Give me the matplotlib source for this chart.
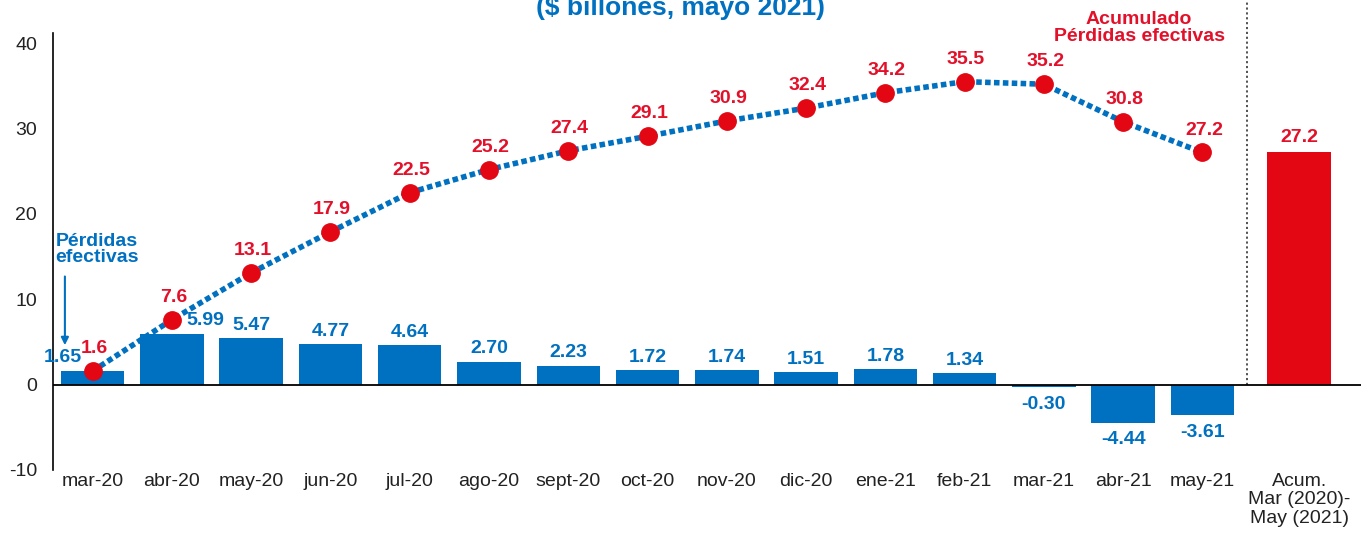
import numpy as np
import matplotlib
matplotlib.use("Agg")
import matplotlib.pyplot as plt

# Datos
meses = ["mar-20", "abr-20", "may-20", "jun-20", "jul-20", "ago-20", "sept-20", "oct-20",
         "nov-20", "dic-20", "ene-21", "feb-21", "mar-21", "abr-21", "may-21"]
perdidas = [1.65, 5.99, 5.47, 4.77, 4.64, 2.70, 2.23, 1.72, 1.74, 1.51, 1.78, 1.34, -0.30, -4.44, -3.61]
acumulado = [1.6, 7.6, 13.1, 17.9, 22.5, 25.2, 27.4, 29.1, 30.9, 32.4, 34.2, 35.5, 35.2, 30.8, 27.2]
total_label = "Acum.\nMar (2020)-\nMay (2021)"
total_valor = 27.2

AZUL = "#0070C0"
ROJO = "#E30613"
ROJO_TXT = "#E3102A"

plt.rcParams['font.family'] = ['Liberation Sans', 'DejaVu Sans']
plt.rcParams['axes.unicode_minus'] = False

fig = plt.figure(figsize=(13.61, 5.33), dpi=100)
ax = fig.add_axes([53 / 1361, 1 - 470 / 533, 1 - 53 / 1361, (470 - 33) / 533])

x = np.arange(len(meses))
x_tot = len(meses) + 0.22

ax.bar(x, perdidas, width=0.8, color=AZUL, zorder=2)
ax.bar(x_tot, total_valor, width=0.8, color=ROJO, zorder=2)

ax.plot(x, acumulado, color=AZUL, lw=4, ls=(0, (1, 0.6)), zorder=3)
ax.plot(x, acumulado, ls="none", marker="o", ms=12.5, color=ROJO, zorder=4)

# etiquetas barras
for i, v in enumerate(perdidas):
    dx = 0
    if i == 0:
        dx = -0.38
    elif i == 1:
        dx = 0.42
    if v >= 0:
        ax.annotate(f"{v:.2f}", (x[i] + dx, v), xytext=(0, 3), textcoords="offset points",
                    ha="center", va="bottom", color=AZUL, fontsize=14, fontweight="bold", zorder=5)
    else:
        ax.annotate(f"{v:.2f}", (x[i], v), xytext=(0, -6), textcoords="offset points",
                    ha="center", va="top", color=AZUL, fontsize=14, fontweight="bold", zorder=5)

for i, v in enumerate(acumulado):
    ax.annotate(f"{v:.1f}", (x[i], v), xytext=(1, 10), textcoords="offset points",
                ha="center", va="bottom", color=ROJO_TXT, fontsize=14, fontweight="bold", zorder=5)

ax.annotate(f"{total_valor:.1f}", (x_tot, total_valor), xytext=(0, 5), textcoords="offset points",
            ha="center", va="bottom", color=ROJO_TXT, fontsize=14, fontweight="bold")

# anotaciones
ax.text(-0.47, 15.8, "Pérdidas\nefectivas", color=AZUL, fontsize=14, fontweight="bold",
        ha="left", va="center", linespacing=0.95)
ax.annotate("", xy=(-0.35, 4.3), xytext=(-0.35, 13.0),
            arrowprops=dict(arrowstyle="-|>", color=AZUL, lw=1.5, mutation_scale=11))
ax.text(13.2, 41.8, "Acumulado\nPérdidas efectivas", color=ROJO_TXT, fontsize=14, fontweight="bold",
        ha="center", va="center", linespacing=0.95, clip_on=False)

fig.text(0.5, 1 - 15 / 533, "($ billones, mayo 2021)", color=AZUL, fontsize=19, fontweight="bold",
         ha="center", va="baseline")

# separador
ax.plot([(x[-1] + x_tot) / 2 - 0.05] * 2, [0, 46], color="#444444", lw=1.3, ls=(0, (1.2, 1.5)),
        clip_on=False, zorder=1)

ax.axhline(0, color="black", lw=1.3, zorder=3)

ax.set_xlim(-0.5, 16.0)
ax.set_ylim(-10, 41.2)
ax.set_yticks([-10, 0, 10, 20, 30, 40])
ax.set_xticks(list(x) + [x_tot])
ax.set_xticklabels(meses + [total_label], fontsize=14, color="#222222", linespacing=1.12)
ax.tick_params(axis="y", labelsize=14, labelcolor="#222222", length=0, pad=11.5)
ax.tick_params(axis="x", length=0, pad=2)
for s in ["top", "right", "bottom"]:
    ax.spines[s].set_visible(False)
ax.spines["left"].set_linewidth(1.2)

fig.savefig("out.png", dpi=100)
